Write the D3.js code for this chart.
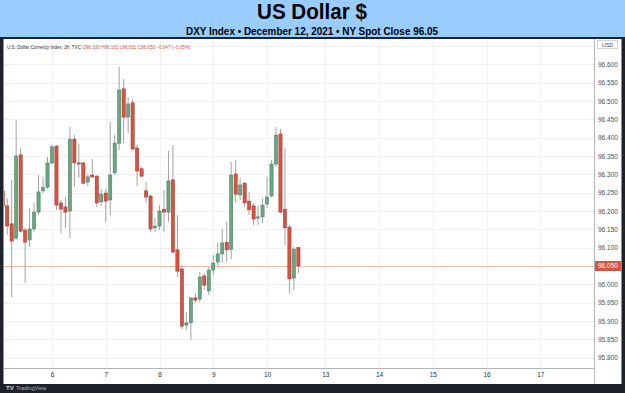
<!DOCTYPE html>
<html>
<head>
<meta charset="utf-8">
<script src="https://cdn.jsdelivr.net/npm/d3@7"></script>
<style>
  html, body { margin: 0; padding: 0; background: #1e222d; }
  svg { display: block; }
</style>
</head>
<body>
<svg id="chart" width="625" height="393"></svg>
<script>
// 2h candles of DXY, first bar sits 11 bars before the Dec 6 session open
const firstIndex = -11;
const opens  = [96.255, 96.214, 96.165, 96.126, 96.353, 96.148, 96.121, 96.151, 96.197, 96.255, 96.265,
                96.331, 96.377, 96.222, 96.211, 96.200, 96.396, 96.331, 96.331, 96.279, 96.298, 96.295, 96.225,
                96.249, 96.230, 96.304, 96.385, 96.533, 96.456, 96.495, 96.372, 96.315, 96.255, 96.241, 96.154,
                96.159, 96.205, 96.197, 96.285, 96.094, 96.042, 95.889, 95.895, 95.963, 95.960, 96.023, 95.982,
                96.039, 96.061, 96.083, 96.115, 96.096, 96.301, 96.244, 96.276, 96.227, 96.214, 96.181, 96.184,
                96.219, 96.241, 96.328, 96.410, 96.205, 96.156, 96.017, 96.100];
const highs  = [96.263, 96.235, 96.285, 96.448, 96.372, 96.154, 96.208, 96.222, 96.298, 96.293, 96.347,
                96.380, 96.380, 96.230, 96.238, 96.429, 96.407, 96.383, 96.334, 96.301, 96.342, 96.298, 96.260,
                96.260, 96.443, 96.407, 96.593, 96.560, 96.511, 96.505, 96.380, 96.320, 96.279, 96.244, 96.181,
                96.216, 96.257, 96.364, 96.380, 96.189, 96.053, 95.925, 95.965, 95.976, 96.034, 96.031, 96.047,
                96.080, 96.113, 96.151, 96.170, 96.334, 96.339, 96.290, 96.279, 96.252, 96.222, 96.214, 96.235,
                96.293, 96.339, 96.429, 96.424, 96.372, 96.162, 96.102, 96.101];
const lows   = [96.203, 96.135, 95.965, 96.121, 96.143, 96.004, 96.102, 96.143, 96.189, 96.249, 96.260,
                96.328, 96.203, 96.140, 96.154, 96.126, 96.265, 96.290, 96.274, 96.268, 96.290, 96.211, 96.214,
                96.170, 96.189, 96.298, 96.366, 96.385, 96.413, 96.366, 96.268, 96.293, 96.222, 96.143, 96.143,
                96.148, 96.143, 96.170, 96.085, 96.020, 95.878, 95.875, 95.848, 95.949, 95.952, 95.985, 95.971,
                96.025, 96.050, 96.058, 96.061, 96.069, 96.222, 96.230, 96.211, 96.189, 96.162, 96.162, 96.167,
                96.208, 96.238, 96.320, 96.195, 96.107, 95.976, 95.985, 96.031];
const closes = [96.214, 96.159, 96.118, 96.350, 96.145, 96.115, 96.151, 96.197, 96.252, 96.265, 96.331,
                96.375, 96.216, 96.205, 96.197, 96.396, 96.331, 96.328, 96.276, 96.293, 96.293, 96.222, 96.246,
                96.227, 96.298, 96.385, 96.530, 96.456, 96.492, 96.369, 96.309, 96.295, 96.238, 96.151, 96.159,
                96.200, 96.197, 96.282, 96.088, 96.036, 95.886, 95.895, 95.963, 95.957, 96.020, 95.998, 96.039,
                96.058, 96.083, 96.113, 96.094, 96.298, 96.246, 96.271, 96.222, 96.203, 96.178, 96.184, 96.216,
                96.238, 96.328, 96.407, 96.197, 96.154, 96.015, 96.096, 96.050];

const dayLabels = ["6", "7", "8", "9", "10", "13", "14", "15", "16", "17"];
const dayBars   = [0, 12, 24, 36, 48, 61, 73, 85, 97, 109];
const priceTicks = [95.80, 95.85, 95.90, 95.95, 96.00, 96.05, 96.10, 96.15, 96.20, 96.25,
                    96.30, 96.35, 96.40, 96.45, 96.50, 96.55, 96.60, 96.65];
const lastClose = 96.05;

const title = "US Dollar $";
const subtitle = "DXY Index \u2022 December 12, 2021 \u2022 NY Spot Close 96.05";

const candles = opens.map((o, k) => ({
  i: firstIndex + k, o: o, h: highs[k], l: lows[k], c: closes[k]
}));

const svg = d3.select("#chart");
const W = 625, H = 393;
const plot = { left: 4, right: 594, top: 39, bottom: 368 };

const x = d3.scaleLinear().domain([-10.71, 120.98]).range([plot.left, plot.right]);
const y = d3.scaleLinear().domain([95.8, 96.6]).range([357.7, 64.3]);

// frame
svg.append("rect").attr("width", W).attr("height", H).attr("fill", "#1e222d");
svg.append("rect").attr("width", W).attr("height", 37).attr("fill", "#99ccff");
svg.append("rect").attr("x", 3.5).attr("y", 39).attr("width", 618).attr("height", 345).attr("fill", "#ffffff");

svg.append("text")
  .attr("x", 312).attr("y", 19)
  .attr("text-anchor", "middle")
  .attr("font-family", "Liberation Sans, Arial, sans-serif")
  .attr("font-weight", "bold").attr("font-size", 22)
  .attr("textLength", 110).attr("lengthAdjust", "spacingAndGlyphs")
  .attr("fill", "#000").text(title);

svg.append("text")
  .attr("x", 312).attr("y", 34.5)
  .attr("text-anchor", "middle")
  .attr("font-family", "Liberation Sans, Arial, sans-serif")
  .attr("font-weight", "bold").attr("font-size", 11)
  .attr("textLength", 252).attr("lengthAdjust", "spacingAndGlyphs")
  .attr("fill", "#000").text(subtitle);

// grid
const grid = svg.append("g");
grid.selectAll("line.h")
  .data(priceTicks)
  .enter().append("line")
  .attr("x1", plot.left).attr("x2", plot.right)
  .attr("y1", d => Math.round(y(d)) + 0.5).attr("y2", d => Math.round(y(d)) + 0.5)
  .attr("stroke", "#f0f1f4");
grid.selectAll("line.v")
  .data(dayBars)
  .enter().append("line")
  .attr("x1", d => Math.round(x(d)) + 0.5).attr("x2", d => Math.round(x(d)) + 0.5)
  .attr("y1", plot.top).attr("y2", plot.bottom)
  .attr("stroke", "#f0f1f4");

// last price line
svg.append("line")
  .attr("x1", plot.left).attr("x2", plot.right)
  .attr("y1", Math.round(y(lastClose)) + 0.5).attr("y2", Math.round(y(lastClose)) + 0.5)
  .attr("stroke", "#f4b9b3").attr("stroke-width", 1);

// candles
svg.append("clipPath").attr("id", "plotclip")
  .append("rect").attr("x", plot.left).attr("y", plot.top)
  .attr("width", plot.right - plot.left).attr("height", plot.bottom - plot.top);

const cg = svg.append("g").attr("clip-path", "url(#plotclip)");
const bodyW = 3.2;

cg.selectAll("line.wick")
  .data(candles)
  .enter().append("line")
  .attr("class", "wick")
  .attr("x1", d => x(d.i)).attr("x2", d => x(d.i))
  .attr("y1", d => y(d.h)).attr("y2", d => y(d.l))
  .attr("stroke", "#a3a3a6").attr("stroke-width", 1);

cg.selectAll("rect.body")
  .data(candles)
  .enter().append("rect")
  .attr("class", "body")
  .attr("x", d => x(d.i) - bodyW / 2)
  .attr("width", bodyW)
  .attr("y", d => y(Math.max(d.o, d.c)))
  .attr("height", d => Math.max(1, Math.abs(y(d.o) - y(d.c))))
  .attr("fill", d => d.c >= d.o ? "#6ba583" : "#d75442")
  .attr("stroke", d => d.c >= d.o ? "#3f7a58" : "#9c3226")
  .attr("stroke-width", 0.5);

// axes panels
svg.append("line")
  .attr("x1", plot.left).attr("x2", plot.right)
  .attr("y1", plot.bottom + 0.5).attr("y2", plot.bottom + 0.5)
  .attr("stroke", "#b2b5be");
svg.append("line")
  .attr("x1", plot.right + 0.5).attr("x2", plot.right + 0.5)
  .attr("y1", plot.top).attr("y2", 384)
  .attr("stroke", "#b2b5be");

const yAxis = d3.axisRight(y).tickValues(priceTicks).tickSize(0).tickPadding(4)
  .tickFormat(d3.format(".3f"));
const ya = svg.append("g").attr("transform", `translate(${plot.right},0)`).call(yAxis);
ya.select(".domain").remove();
ya.selectAll("text")
  .attr("font-family", "Liberation Sans, Arial, sans-serif")
  .attr("font-size", 6.5).attr("fill", "#4a4d57");

const xAxis = d3.axisBottom(x).tickValues(dayBars).tickSize(0).tickPadding(4)
  .tickFormat((d, k) => dayLabels[k]);
const xa = svg.append("g").attr("transform", `translate(0,${plot.bottom})`).call(xAxis);
xa.select(".domain").remove();
xa.selectAll("text")
  .attr("font-family", "Liberation Sans, Arial, sans-serif")
  .attr("font-size", 6.5).attr("fill", "#2a2e39");

// currency box at the top of the price scale
svg.append("rect")
  .attr("x", 597.5).attr("y", 40.5).attr("width", 20).attr("height", 8)
  .attr("fill", "#ffffff").attr("stroke", "#d1d4dc");
svg.append("text")
  .attr("x", 607.5).attr("y", 46.5).attr("text-anchor", "middle")
  .attr("font-family", "Liberation Sans, Arial, sans-serif")
  .attr("font-size", 5.5).attr("fill", "#4a4d57").text("USD");

// last price tag
svg.append("rect")
  .attr("x", plot.right + 1).attr("y", y(lastClose) - 5)
  .attr("width", 26).attr("height", 10).attr("fill", "#d75442");
svg.append("text")
  .attr("x", plot.right + 4).attr("y", y(lastClose) + 2.3)
  .attr("font-family", "Liberation Sans, Arial, sans-serif")
  .attr("font-size", 6.5).attr("fill", "#ffffff")
  .text(d3.format(".3f")(lastClose));

// legend line
const last = candles[candles.length - 1];
const prev = candles[candles.length - 2];
const chg = last.c - prev.c;
const legend = svg.append("text")
  .attr("x", 7).attr("y", 48.5)
  .attr("font-family", "Liberation Sans, Arial, sans-serif")
  .attr("font-size", 4.6);
legend.append("tspan").attr("fill", "#2a2e39").text("U.S. Dollar Currency Index, 2h, TVC  ");
legend.append("tspan").attr("fill", "#d75442")
  .text(`O${last.o.toFixed(3)}  H${last.h.toFixed(3)}  L${last.l.toFixed(3)}  C${last.c.toFixed(3)}  \u22120.047 (\u22120.05%)`);

// footer logo
const logo = svg.append("g").attr("transform", "translate(6,388)");
logo.append("text")
  .attr("x", 0).attr("y", 2)
  .attr("font-family", "Liberation Sans, Arial, sans-serif")
  .attr("font-weight", "bold").attr("font-size", 6).attr("fill", "#d1d4dc").text("TV");
logo.append("text")
  .attr("x", 10).attr("y", 2)
  .attr("font-family", "Liberation Sans, Arial, sans-serif")
  .attr("font-size", 5.5).attr("fill", "#b2b5be").text("TradingView");
</script>
</body>
</html>
